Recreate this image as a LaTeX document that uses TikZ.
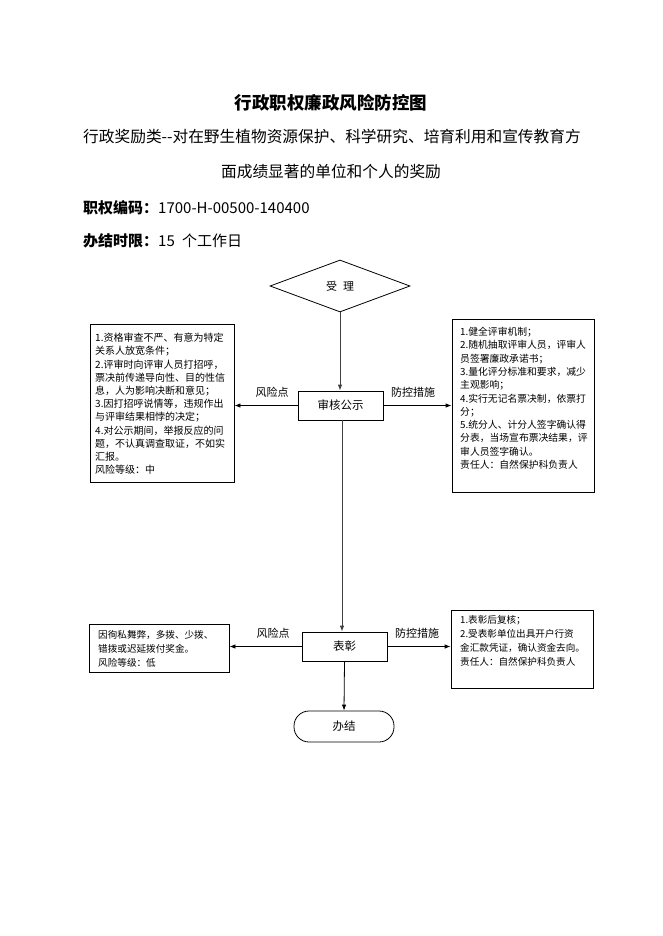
\documentclass[tikz,border=0pt]{standalone}
\usepackage{fontspec}
\setmainfont{Noto Sans CJK SC}
\usetikzlibrary{shapes.geometric,arrows.meta}
\tikzset{
  box/.style={draw, line width=0.8pt, inner sep=0pt, minimum width=#1},
  stepnode/.style={draw, line width=0.8pt, minimum width=85pt, minimum height=29pt, inner sep=0pt, font=\fontsize{11.5}{13}\selectfont},
  conn/.style={line width=0.8pt, -{Latex[length=6pt,width=4.5pt]}},
  lbl/.style={font=\fontsize{11}{13}\selectfont, inner sep=0pt},
  boxtext/.style={anchor=north west, align=left, inner sep=0pt},
  head/.style={inner sep=0pt, font=\fontsize{15}{17}\selectfont},
  subhead/.style={inner sep=0pt, font=\fontsize{15.7}{17}\selectfont}
}
\begin{document}
\begin{tikzpicture}[x=1pt,y=-1pt]
\useasboundingbox (0,0) rectangle (662,936);
% header
\node[inner sep=0pt, font=\fontsize{17.5}{20}\selectfont\bfseries] (title) at (331,103) {行政职权廉政风险防控图};
\node[subhead, anchor=west] (sub1) at (83,137) {行政奖励类-{}-对在野生植物资源保护、科学研究、培育利用和宣传教育方};
\node[subhead] (sub2) at (331,172) {面成绩显著的单位和个人的奖励};
\node[head, anchor=west] (code) at (83,208) {\textbf{职权编码：}1700-H-00500-140400};
\node[head, anchor=west] (limit) at (83,241) {\textbf{办结时限：}15\hspace{4pt} 个工作日};
% flow nodes
\node[diamond, draw, line width=0.8pt, minimum width=140pt, minimum height=52pt, inner sep=0pt, font=\fontsize{11}{13}\selectfont] (sl) at (340,286) {受\hspace{6pt}理};
\node[stepnode] (sh) at (340.5,405.5) {审核公示};
\node[stepnode] (bz) at (344.5,646.5) {表彰};
\node[draw, line width=0.8pt, rounded corners=15pt, minimum width=100pt, minimum height=31pt, inner sep=0pt, font=\fontsize{11.5}{13}\selectfont] (bj) at (344,726.5) {办结};
% side boxes
\node[box=144pt, minimum height=158pt] (lb1) at (162,403) {};
\node[box=142pt, minimum height=173pt] (rb1) at (523,405.5) {};
\node[box=140pt, minimum height=48pt] (lb2) at (159,648) {};
\node[box=142pt, minimum height=78pt] (rb2) at (522,649) {};
% box texts
\node[boxtext, font=\fontsize{10}{13.2}\selectfont] (t1) at (95,333) {1.资格审查不严、有意为特定\\关系人放宽条件；\\2.评审时向评审人员打招呼，\\票决前传递导向性、目的性信\\息，人为影响决断和意见；\\3.因打招呼说情等，违规作出\\与评审结果相悖的决定；\\4.对公示期间，举报反应的问\\题，不认真调查取证，不如实\\汇报。\\风险等级：中};
\node[boxtext, font=\fontsize{9.8}{13.3}\selectfont] (t2) at (460,327) {1.健全评审机制；\\2.随机抽取评审人员，评审人\\员签署廉政承诺书；\\3.量化评分标准和要求，减少\\主观影响；\\4.实行无记名票决制，依票打\\分；\\5.统分人、计分人签字确认得\\分表，当场宣布票决结果，评\\审人员签字确认。\\责任人：自然保护科负责人};
\node[boxtext, font=\fontsize{9.6}{14}\selectfont] (t3) at (98,630.2) {因徇私舞弊，多拨、少拨、\\错拨或迟延拨付奖金。\\风险等级：低};
\node[boxtext, font=\fontsize{9.6}{14}\selectfont] (t4) at (460,615.2) {1.表彰后复核；\\2.受表彰单位出具开户行资\\金汇款凭证，确认资金去向。\\责任人：自然保护科负责人};
% connectors
\draw[conn, black!75] (sl.south) -- (sl.south |- sh.north);
\coordinate (m1) at (342,420);
\draw[conn, black!75] (m1) -- (m1 |- bz.north);
\draw[conn] (bz.south) -- (bj.north);
\draw[conn] (sh.west) -- (sh.west -| lb1.east);
\draw[conn] (sh.east) -- (sh.east -| rb1.west);
\draw[conn] (bz.west) -- (bz.west -| lb2.east);
\draw[conn] (bz.east) -- (bz.east -| rb2.west);
% labels
\node[lbl] (r1) at (272,392) {风险点};
\node[lbl] (p1) at (413,392) {防控措施};
\node[lbl] (r2) at (273,633) {风险点};
\node[lbl] (p2) at (417,633) {防控措施};
\end{tikzpicture}
\end{document}
